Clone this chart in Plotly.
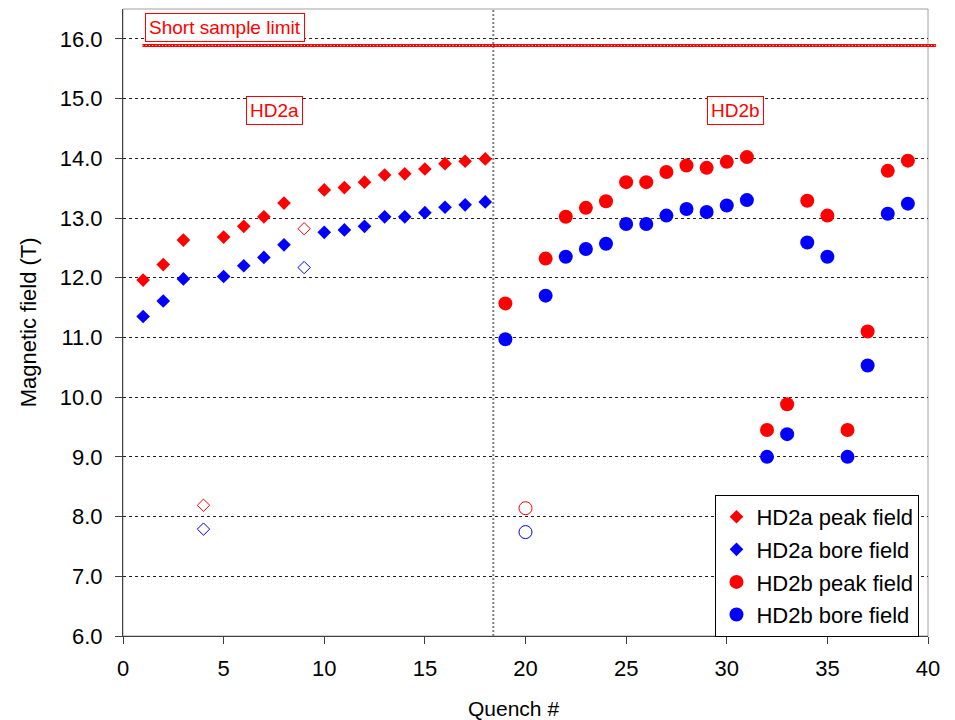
import plotly.graph_objects as go

# ---- data ----
hd2a_x = [1, 2, 3, 5, 6, 7, 8, 10, 11, 12, 13, 14, 15, 16, 17, 18]
hd2a_peak = [11.96, 12.22, 12.63, 12.68, 12.86, 13.02, 13.25, 13.47, 13.51, 13.60,
             13.72, 13.74, 13.82, 13.91, 13.95, 13.99]
hd2a_bore = [11.35, 11.61, 11.98, 12.02, 12.20, 12.34, 12.55, 12.76, 12.80, 12.86,
             13.02, 13.02, 13.09, 13.18, 13.22, 13.27]

hd2a_open_x = [4, 9]
hd2a_open_peak = [8.19, 12.82]
hd2a_open_bore = [7.79, 12.17]

hd2b_x = [19, 21, 22, 23, 24, 25, 26, 27, 28, 29, 30, 31, 32, 33, 34, 35, 36, 37, 38, 39]
hd2b_peak = [11.57, 12.32, 13.02, 13.17, 13.28, 13.60, 13.60, 13.77, 13.88, 13.84,
             13.94, 14.02, 9.45, 9.88, 13.29, 13.04, 9.45, 11.10, 13.79, 13.96]
hd2b_bore = [10.97, 11.70, 12.35, 12.48, 12.57, 12.90, 12.90, 13.04, 13.15, 13.10,
             13.21, 13.30, 9.00, 9.38, 12.59, 12.35, 9.00, 10.53, 13.07, 13.24]

hd2b_open_x = [20]
hd2b_open_peak = [8.14]
hd2b_open_bore = [7.74]

short_sample_limit = 15.89
magnet_split = 18.4

x_ticks = [0, 5, 10, 15, 20, 25, 30, 35, 40]
y_ticks = [6, 7, 8, 9, 10, 11, 12, 13, 14, 15, 16]

RED = "#ff0000"
BLUE = "#0000ff"
FONT = "Liberation Sans, Arial, sans-serif"

fig = go.Figure()

fig.add_trace(go.Scatter(x=hd2a_x, y=hd2a_peak, mode="markers", name="HD2a peak field",
                         legendgroup="a", marker=dict(symbol="diamond", size=10.5, color=RED)))
fig.add_trace(go.Scatter(x=hd2a_x, y=hd2a_bore, mode="markers", name="HD2a bore field",
                         legendgroup="b", marker=dict(symbol="diamond", size=10.5, color=BLUE)))
fig.add_trace(go.Scatter(x=hd2b_x, y=hd2b_peak, mode="markers", name="HD2b peak field",
                         legendgroup="c", marker=dict(symbol="circle", size=14, color=RED)))
fig.add_trace(go.Scatter(x=hd2b_x, y=hd2b_bore, mode="markers", name="HD2b bore field",
                         legendgroup="d", marker=dict(symbol="circle", size=14, color=BLUE)))

fig.add_trace(go.Scatter(x=hd2a_open_x, y=hd2a_open_peak, mode="markers", showlegend=False,
                         marker=dict(symbol="diamond-open", size=9.5, color=RED, line=dict(width=1))))
fig.add_trace(go.Scatter(x=hd2a_open_x, y=hd2a_open_bore, mode="markers", showlegend=False,
                         marker=dict(symbol="diamond-open", size=9.5, color=BLUE, line=dict(width=1))))
fig.add_trace(go.Scatter(x=hd2b_open_x, y=hd2b_open_peak, mode="markers", showlegend=False,
                         marker=dict(symbol="circle-open", size=13, color=RED, line=dict(width=1))))
fig.add_trace(go.Scatter(x=hd2b_open_x, y=hd2b_open_bore, mode="markers", showlegend=False,
                         marker=dict(symbol="circle-open", size=13, color=BLUE, line=dict(width=1))))

shapes = [
    # frame (top/right gray)
    dict(type="rect", xref="paper", yref="paper", x0=0, x1=1, y0=0, y1=1,
         line=dict(color="#a0a0a0", width=1), layer="below"),
    # separator between magnets
    dict(type="line", xref="x", yref="paper", x0=magnet_split, x1=magnet_split, y0=0, y1=1,
         line=dict(color="#808080", width=2, dash="2px,2px")),
    # short sample limit
    dict(type="line", xref="paper", yref="y", x0=0.024, x1=1.01,
         y0=short_sample_limit, y1=short_sample_limit,
         line=dict(color=RED, width=3)),
    dict(type="line", xref="paper", yref="y", x0=0.024, x1=1.01,
         y0=short_sample_limit, y1=short_sample_limit,
         line=dict(color="white", width=1, dash="1px,2.3px")),
]

ann_font = dict(family=FONT, size=19, color=RED)
annotations = [
    dict(x=5.05, y=16.19, xref="x", yref="y", text="Short sample limit", showarrow=False,
         font=ann_font, bordercolor=RED, borderwidth=1, borderpad=3, bgcolor="white"),
    dict(x=7.53, y=14.8, xref="x", yref="y", text="HD2a", showarrow=False,
         font=ann_font, bordercolor=RED, borderwidth=1, borderpad=3, bgcolor="white"),
    dict(x=30.44, y=14.8, xref="x", yref="y", text="HD2b", showarrow=False,
         font=ann_font, bordercolor=RED, borderwidth=1, borderpad=3, bgcolor="white"),
    dict(x=-0.117, y=0.50, xref="paper", yref="paper", text="Magnetic field (T)",
         textangle=-90, showarrow=False, xanchor="center", yanchor="middle",
         font=dict(family=FONT, size=22, color="black")),
    dict(x=0.485, y=-0.115, xref="paper", yref="paper", text="Quench #",
         showarrow=False, xanchor="center", yanchor="middle",
         font=dict(family=FONT, size=21, color="black")),
]

fig.update_layout(
    width=955, height=720,
    margin=dict(l=123, r=27, t=9, b=84),
    paper_bgcolor="white", plot_bgcolor="white",
    font=dict(family=FONT, size=22, color="black"),
    shapes=shapes, annotations=annotations,
    legend=dict(x=0.736, y=0.225, xanchor="left", yanchor="top",
                bordercolor="black", borderwidth=1, bgcolor="white",
                font=dict(family=FONT, size=22, color="black"),
                traceorder="grouped", tracegroupgap=1),
    showlegend=True,
)

fig.update_xaxes(range=[0, 40], tickvals=x_ticks, showgrid=False, zeroline=False,
                 showline=True, linecolor="#404040", linewidth=1,
                 ticks="outside", ticklen=7, tickcolor="#404040",
                 ticklabelstandoff=6,
                 tickfont=dict(family=FONT, size=22, color="black"))
fig.update_yaxes(range=[6, 16.5], tickvals=y_ticks, tickformat=".1f", zeroline=False,
                 showgrid=True, gridcolor="#222222", gridwidth=1, griddash="3px,3px",
                 showline=True, linecolor="#404040", linewidth=1,
                 ticks="outside", ticklen=7, tickcolor="#404040",
                 ticklabelstandoff=8,
                 tickfont=dict(family=FONT, size=22, color="black"))

fig.write_html("out.html")
